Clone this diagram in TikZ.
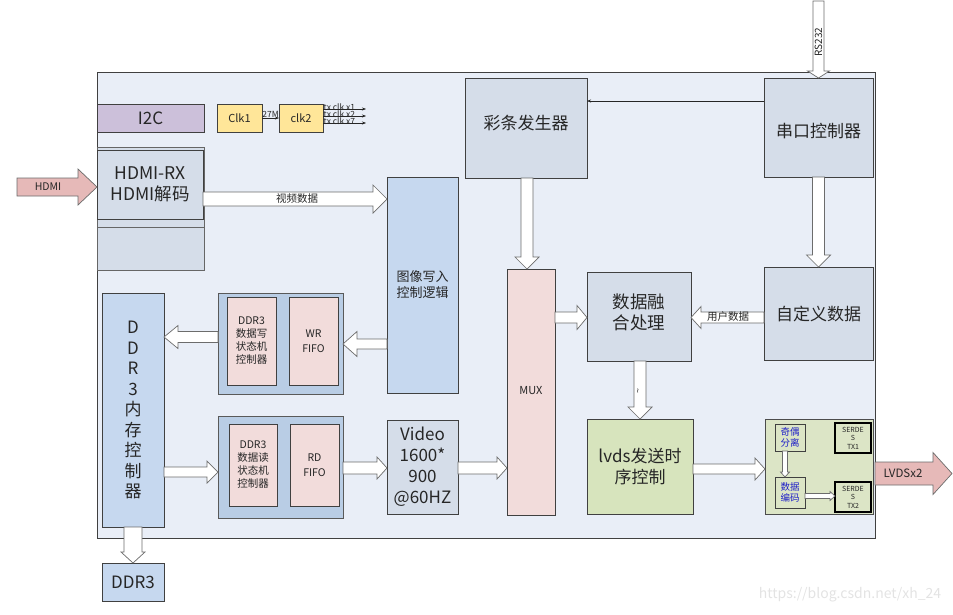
\documentclass[tikz,border=0pt]{standalone}
\usepackage{fontspec}
\setmainfont{Noto Sans CJK SC}
\usetikzlibrary{calc,arrows.meta}
\definecolor{mainbg}{HTML}{E9EEF7}
\definecolor{gbox}{HTML}{D5DDE9}
\definecolor{lbox}{HTML}{C6D8EF}
\definecolor{grpbox}{HTML}{B9CDE5}
\definecolor{pinkbox}{HTML}{F2DCDB}
\definecolor{greenbox}{HTML}{D7E4BD}
\definecolor{greenlt}{HTML}{DCE5C6}
\definecolor{yellowbox}{HTML}{FFE699}
\definecolor{lavbox}{HTML}{CCC0DA}
\definecolor{pinkarr}{HTML}{E6B9B8}
\definecolor{edge}{HTML}{404040}
\definecolor{txt}{HTML}{262626}
\definecolor{bluetxt}{HTML}{1F1FC8}
\tikzset{
  box/.style={draw=edge, line width=0.8pt, inner sep=0pt, outer sep=0pt, text=txt, align=center},
  fatstyle/.style={draw=gray!85!black, line width=0.7pt, fill=white, line join=miter},
  thinarr/.style={-{Stealth[length=4pt,width=3pt]}, line width=0.5pt, draw=txt},
  lbl/.style={inner sep=0.5pt, text=txt, align=center}
}
\newcommand\fatarrow[6][]{%
  \draw[fatstyle,#1] let \p1=(#2),\p2=(#3),\n1={veclen(\x2-\x1,\y2-\y1)},\n2={atan2(\y2-\y1,\x2-\x1)} in
   [shift={(\p1)},rotate=\n2] (0pt,-#4) -- (\n1-#6,-#4) -- (\n1-#6,-#5) -- (\n1,0pt) -- (\n1-#6,#5) -- (\n1-#6,#4) -- (0pt,#4) -- cycle;}
\newcommand\fs[2]{\fontsize{#1}{#2}\selectfont}
\begin{document}
\begin{tikzpicture}[x=1pt,y=-1pt]
\useasboundingbox (0,0) rectangle (953,614);
% main frame
\node[box, fill=mainbg, minimum width=778pt, minimum height=466pt] (main) at (486,305) {};
% top-left
\node[box, fill=lavbox, minimum width=107pt, minimum height=28pt, font=\fs{17}{20}] (i2c) at (150.5,118) {I2C};
\node[box, fill=yellowbox, minimum width=45pt, minimum height=28pt, font=\fs{11}{13}] (clk1) at (239.5,118) {Clk1};
\node[box, fill=yellowbox, minimum width=44pt, minimum height=28pt, font=\fs{11}{13}] (clk2) at (301,118) {clk2};
\draw[thinarr] (clk1.east) -- node[lbl, above, font=\fs{8.5}{9}] {27M} (clk2.west);
\coordinate (tx1) at (366,109);
\coordinate (tx2) at (366,116);
\coordinate (tx3) at (366,123);
\draw[thinarr] (clk2.east |- tx1) -- (tx1);
\draw[thinarr] (clk2.east |- tx2) -- (tx2);
\draw[thinarr] (clk2.east |- tx3) -- (tx3);
\node[lbl, anchor=south west, font=\fs{8.5}{9}] at (323,111) {tx clk x1};
\node[lbl, anchor=south west, font=\fs{8.5}{9}] at (323,118) {tx clk x2};
\node[lbl, anchor=south west, font=\fs{8.5}{9}] at (323,125) {tx clk x7};
% HDMI
\node[box, fill=gbox, draw=gray!80!black, minimum width=107pt, minimum height=123pt] (hdmio) at (150.5,208.5) {};
\draw[gray!80!black, line width=0.8pt] (97,227) -- (204,227);
\node[box, fill=gbox, minimum width=106pt, minimum height=69pt, font=\fs{17.5}{21}] (hdmi) at (150,184.5) {HDMI-RX\\HDMI解码};
\coordinate (hdmiin) at (17,187);
\fatarrow[fill=pinkarr]{hdmiin}{hdmiin -| hdmio.west}{9pt}{18pt}{19pt}
\node[lbl, font=\fs{10.5}{12}] at (48,187) {HDMI};
% image write
\node[box, fill=lbox, minimum width=71pt, minimum height=216pt, font=\fs{13}{16}] (imgw) at (422.5,285) {图像写入\\控制逻辑};
\coordinate (vy) at (0,199);
\fatarrow{hdmi.east |- vy}{imgw.west |- vy}{7pt}{14pt}{14pt}
\node[lbl, font=\fs{10.5}{11}] at (297,199) {视频数据};
% color bar & uart
\node[box, fill=gbox, minimum width=122pt, minimum height=100pt] (cai) at (526,128) {};
\node[lbl, font=\fs{17}{20}] at (526,123) {彩条发生器};
\node[box, fill=gbox, minimum width=109pt, minimum height=99pt] (uart) at (818.5,127.5) {};
\node[lbl, font=\fs{17}{20}] at (818.5,131.5) {串口控制器};
\coordinate (uy) at (0,101);
\draw[thinarr] (uart.west |- uy) -- (cai.east |- uy);
\coordinate (rs) at (818.5,1);
\fatarrow{rs}{uart.north}{5.5pt}{11pt}{7pt}
\node[lbl, rotate=90, font=\fs{10}{11}] at (818.5,42) {RS232};
% MUX, fuse, custom
\node[box, fill=pinkbox, minimum width=48pt, minimum height=246pt] (mux) at (531,392) {};
\node[lbl, font=\fs{11}{13}] at (531,391) {MUX};
\node[box, fill=gbox, minimum width=104pt, minimum height=89pt] (fuse) at (639,316.5) {};
\node[lbl, font=\fs{17.5}{21}] at (639,312) {数据融\\合处理};
\node[box, fill=gbox, minimum width=109pt, minimum height=93pt, font=\fs{17}{20}] (cust) at (818.5,313.5) {自定义数据};
\fatarrow{cai.south -| 527,0}{mux.north -| 527,0}{6pt}{12pt}{12pt}
\fatarrow{uart.south}{uart.south |- cust.north}{6pt}{12pt}{12pt}
\coordinate (my) at (0,317.5);
\fatarrow{mux.east |- my}{fuse.west |- my}{5.5pt}{12pt}{10pt}
\fatarrow{cust.west |- my}{fuse.east |- my}{5.5pt}{11pt}{10pt}
\node[lbl, font=\fs{10.5}{11}] at (728,317) {用户数据};
% lvds
\node[box, fill=greenbox, minimum width=106pt, minimum height=95pt, font=\fs{17}{21}] (lvds) at (640,466.5) {lvds发送时\\序控制};
\fatarrow{fuse.south -| 640,0}{lvds.north -| 640,0}{6pt}{12pt}{12pt}
\node[lbl, rotate=90, font=\fs{9}{9}] at (639,391) {\textasciitilde};
% serdes block
\node[box, fill=greenlt, draw=gray!60!black, minimum width=108pt, minimum height=95pt] (ser) at (819,466.5) {};
\node[box, fill=greenlt, minimum width=30pt, minimum height=27pt, text=bluetxt, font=\fs{9.5}{11}] (jiou) at (790,437.5) {奇偶\\分离};
\node[box, fill=greenlt, minimum width=30pt, minimum height=31pt, text=bluetxt, font=\fs{9.5}{11}] (enc) at (790,492.5) {数据\\编码};
\node[box, fill=greenlt, draw=black, line width=1.3pt, minimum width=36pt, minimum height=30pt, font=\fs{7}{8.5}, anchor=north east] (tx1b) at (871,423) {SERDE\\S\\TX1};
\node[box, fill=greenlt, draw=black, line width=1.3pt, minimum width=36pt, minimum height=30pt, font=\fs{7}{8.5}, anchor=north east] (tx2b) at (871,482) {SERDE\\S\\TX2};
\fatarrow{jiou.south -| 785,0}{enc.north -| 785,0}{2.5pt}{4.5pt}{5pt}
\coordinate (ey) at (0,496);
\fatarrow{enc.east |- ey}{tx2b.west |- ey}{2.5pt}{4.5pt}{5pt}
\coordinate (ly) at (0,469);
\fatarrow{lvds.east |- ly}{ser.west |- ly}{5pt}{11pt}{10pt}
\coordinate (lout) at (952,473.5);
\fatarrow[fill=pinkarr]{main.east |- lout}{lout}{11.5pt}{21pt}{19pt}
\node[lbl, font=\fs{11.5}{13}] at (903,473.5) {LVDSx2};
% DDR side
\node[box, fill=lbox, minimum width=62pt, minimum height=234pt, font=\fs{17}{20.5}] (ddrc) at (133,410) {D\\D\\R\\3\\内\\存\\控\\制\\器};
\node[box, fill=lbox, minimum width=62pt, minimum height=38pt, font=\fs{17}{20}] (ddr3) at (133,582) {DDR3};
\fatarrow{ddrc.south}{ddr3.north}{9pt}{12pt}{11pt}
% WR group
\node[box, fill=grpbox, draw=gray!70!black, minimum width=125pt, minimum height=101pt] (wrg) at (280.5,343.5) {};
\node[box, fill=pinkbox, minimum width=49pt, minimum height=88pt, font=\fs{10.5}{13}] (wrsm) at (251.5,341) {DDR3\\数据写\\状态机\\控制器};
\node[box, fill=pinkbox, minimum width=49pt, minimum height=88pt, font=\fs{10.5}{15}] (wrff) at (313.5,341) {WR\\FIFO};
\coordinate (wy) at (0,344);
\fatarrow{imgw.west |- wy}{wrg.east |- wy}{5pt}{12.5pt}{14pt}
\coordinate (dy) at (0,337);
\fatarrow{wrg.west |- dy}{ddrc.east |- dy}{5.5pt}{11.5pt}{14pt}
% RD group
\node[box, fill=grpbox, draw=gray!70!black, minimum width=125pt, minimum height=102pt] (rdg) at (280.5,467) {};
\node[box, fill=pinkbox, minimum width=48pt, minimum height=82pt, font=\fs{10.5}{13}] (rdsm) at (253,465) {DDR3\\数据读\\状态机\\控制器};
\node[box, fill=pinkbox, minimum width=49pt, minimum height=82pt, font=\fs{10.5}{15}] (rdff) at (314.5,465) {RD\\FIFO};
\node[box, fill=gbox, minimum width=71pt, minimum height=94pt, font=\fs{17}{21}] (video) at (422.5,467) {Video\\1600*\\900\\@60HZ};
\coordinate (ry) at (0,472);
\fatarrow{ddrc.east |- ry}{rdg.west |- ry}{5pt}{11pt}{11pt}
\coordinate (vy2) at (0,468);
\fatarrow{rdg.east |- vy2}{video.west |- vy2}{6pt}{11pt}{10pt}
\fatarrow{video.east |- vy2}{mux.west |- vy2}{6pt}{11pt}{10pt}
% watermark
\node[lbl, text=gray!22, font=\fs{14}{16}] (wm) at (850,595) {https://blog.csdn.net/xh\_24};
\end{tikzpicture}
\end{document}
